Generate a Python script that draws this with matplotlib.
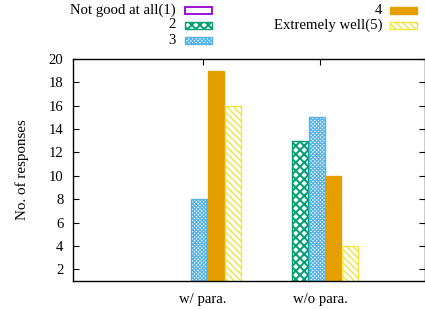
import matplotlib
matplotlib.use('Agg')
import matplotlib.pyplot as plt
from matplotlib.patches import Rectangle
import numpy as np

# ---- data ----
categories = ['w/ para.', 'w/o para.']
series_labels = ['Not good at all(1)', '2', '3', '4', 'Extremely well(5)']
not_good = [0, 0]
rating2 = [0, 13]
rating3 = [8, 15]
rating4 = [19, 10]
extremely_well = [16, 4]
y_ticks = [2, 4, 6, 8, 10, 12, 14, 16, 18, 20]
y_label = 'No. of responses'

series = [not_good, rating2, rating3, rating4, extremely_well]

# ---- style ----
colors = ['#9400D3', '#009E73', '#56B4E9', '#E69F00', '#F0E442']
faces = ['white', 'white', 'white', '#E69F00', 'white']
hatches = [None, 'xxxx', 'xxxxxxxxx', None, '\\\\\\\\\\']
hlw = [1.0, 1.4, 0.9, 1.0, 1.0]
edge_lw = [1.3, 1.0, 1.0, 1.0, 1.0]

plt.rcParams['font.family'] = ['Liberation Serif', 'DejaVu Serif']
plt.rcParams['font.size'] = 10.6

W, H = 425, 309
fig = plt.figure(figsize=(W / 100, H / 100), dpi=100)
L, R, T, B = 72.5, 424.5, 59, 281
ax = fig.add_axes([L / W, 1 - B / H, (R - L) / W, (B - T) / H])

x = np.arange(len(categories))
slot = 1 / 7
bw = 0.134
offset = -0.028
for j, vals in enumerate(series):
    bars = ax.bar(x + offset + (j - 2) * slot, vals, width=bw, bottom=0,
                  color=faces[j], edgecolor=colors[j], linewidth=edge_lw[j],
                  hatch=hatches[j], zorder=2)
    for b in bars:
        try:
            b.set_hatch_linewidth(hlw[j])
        except Exception:
            pass

ax.set_xlim(-(202.5 - L) / 117.5, 1 + (R - 320) / 117.5)
ax.set_ylim(1, 20)
ax.set_yticks(y_ticks)
ax.set_xticks(x)
ax.set_xticklabels(categories)
ax.tick_params(axis='both', direction='in', length=4, width=0.8,
               top=True, right=True, labelsize=10.6)
ax.tick_params(axis='y', pad=6.5)
ax.tick_params(axis='x', pad=8.5)
ax.set_axisbelow(True)
for s in ax.spines.values():
    s.set_linewidth(1.0)
    s.set_zorder(3)
ax.set_ylabel(y_label, fontsize=10.8)
ax.yaxis.set_label_coords(-(L - 29) / (R - L), 0.5)

# ---- legend (gnuplot-style key) ----
rows = [(176, 185, 10), (176, 185, 25), (176, 185, 40), (382, 390, 10), (382, 390, 25)]
for j, (tx, sx, cy) in enumerate(rows):
    fig.text(tx / W, 1 - cy / H, series_labels[j], ha='right', va='center',
             fontsize=10.6)
    r = Rectangle((sx / W, 1 - (cy + 3.5) / H), 27 / W, 7 / H,
                  transform=fig.transFigure, facecolor=faces[j],
                  edgecolor=colors[j], linewidth=edge_lw[j], hatch=hatches[j])
    try:
        r.set_hatch_linewidth(hlw[j])
    except Exception:
        pass
    fig.patches.append(r)

fig.savefig('out.png', dpi=100)
